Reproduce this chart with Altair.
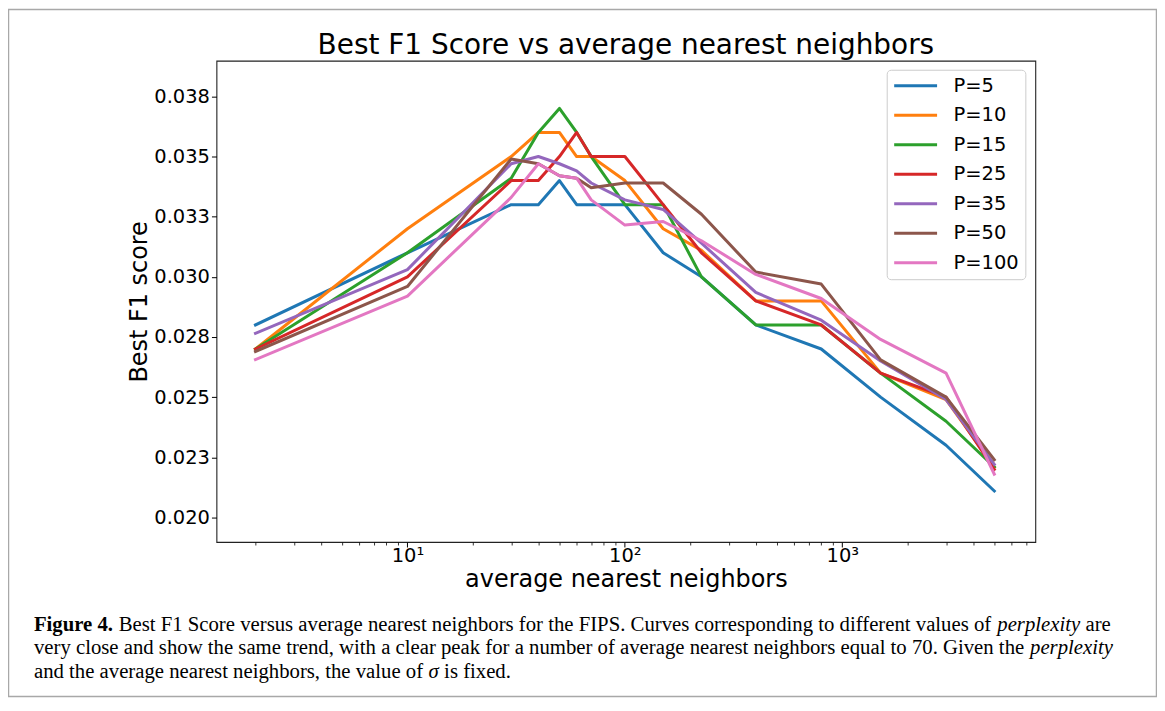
import altair as alt
import pandas as pd

# ---------------- data ----------------
neighbors = [2, 10, 30, 40, 50, 60, 70, 100, 150, 225, 400, 800, 1500, 3000, 5000]

p5 = [0.0280, 0.0310, 0.0330, 0.0330, 0.0340, 0.0330, 0.0330, 0.0330, 0.0310, 0.0300, 0.0280, 0.0270, 0.0250, 0.0230, 0.0211]
p10 = [0.0270, 0.0320, 0.0350, 0.0360, 0.0360, 0.0350, 0.0350, 0.0340, 0.0320, 0.0311, 0.0290, 0.0290, 0.0260, 0.0249, 0.0221]
p15 = [0.0270, 0.0310, 0.0341, 0.0360, 0.0370, 0.0360, 0.0350, 0.0330, 0.0330, 0.0300, 0.0280, 0.0280, 0.0260, 0.0240, 0.0221]
p25 = [0.0270, 0.0300, 0.0340, 0.0340, 0.0350, 0.0360, 0.0350, 0.0350, 0.0330, 0.0310, 0.0290, 0.0280, 0.0260, 0.0250, 0.0220]
p35 = [0.02765, 0.0303, 0.0347, 0.0350, 0.0347, 0.0344, 0.0339, 0.0332, 0.0328, 0.0314, 0.02935, 0.0282, 0.0265, 0.0249, 0.0222]
p50 = [0.0269, 0.0296, 0.0349, 0.0347, 0.0342, 0.0341, 0.0337, 0.0339, 0.0339, 0.0326, 0.0302, 0.0297, 0.02655, 0.0250, 0.0224]
p100 = [0.02656, 0.0292, 0.0333, 0.0347, 0.0342, 0.0341, 0.0332, 0.03215, 0.0323, 0.0315, 0.0301, 0.0291, 0.0274, 0.0260, 0.0218]

series_labels = ["P=5", "P=10", "P=15", "P=25", "P=35", "P=50", "P=100"]
series_values = [p5, p10, p15, p25, p35, p50, p100]
series_colors = ["#1f77b4", "#ff7f0e", "#2ca02c", "#d62728", "#9467bd", "#8c564b", "#e377c2"]

y_ticks = [0.0200, 0.0225, 0.0250, 0.0275, 0.0300, 0.0325, 0.0350, 0.0375]
x_major = [10, 100, 1000]
x_minor = [2, 3, 4, 5, 6, 7, 8, 9, 20, 30, 40, 50, 60, 70, 80, 90,
           200, 300, 400, 500, 600, 700, 800, 900, 2000, 3000, 4000, 5000, 6000, 7000]

title_text = "Best F1 Score vs average nearest neighbors"
x_title = "average nearest neighbors"
y_title = "Best F1 score"

# caption: lines of (text, style) segments
caption_lines = [
    [("Figure 4.", "bold"),
     ("Best F1 Score versus average nearest neighbors for the FIPS. Curves corresponding to different values of", "normal"),
     ("perplexity", "italic"),
     ("are", "normal")],
    [("very close and show the same trend, with a clear peak for a number of average nearest neighbors equal to 70. Given the", "normal"),
     ("perplexity", "italic")],
    [("and the average nearest neighbors, the value of", "normal"),
     ("σ", "italic"),
     ("is fixed.", "normal")],
]

rows = []
for lab, vals in zip(series_labels, series_values):
    for x, y in zip(neighbors, vals):
        rows.append({"nn": x, "f1": y, "P": lab})
df = pd.DataFrame(rows)

FONT = "DejaVu Sans"
SERIF = "Liberation Serif"
CAP_SIZE = 20.8

# Times-compatible advance widths (Liberation Serif is metric compatible), per 1000 em
ROMAN = {" ": 250, ",": 250, ".": 250, "B": 667, "C": 667, "F": 556, "G": 722, "I": 333, "P": 556, "S": 556,
         "a": 444, "b": 500, "c": 444, "d": 500, "e": 444, "f": 333, "g": 500, "h": 500, "i": 278, "k": 500,
         "l": 278, "m": 778, "n": 500, "o": 500, "p": 500, "q": 500, "r": 333, "s": 389, "t": 278, "u": 500,
         "v": 500, "w": 722, "x": 500, "y": 500, "z": 444}
BOLD = {" ": 250, ".": 250, "F": 611, "i": 278, "g": 500, "u": 556, "r": 444, "e": 444}
ITALIC = {"p": 500, "e": 444, "r": 389, "l": 278, "x": 444, "i": 278, "t": 278, "y": 444, "σ": 500}
TABLES = {"normal": ROMAN, "bold": BOLD, "italic": ITALIC}


def text_width(s, style):
    table = TABLES[style]
    return sum(table.get(ch, 500) for ch in s) / 1000.0 * CAP_SIZE


x_scale = alt.Scale(type="log", domain=[1.323, 7720], nice=False)
y_scale = alt.Scale(domain=[0.01898, 0.03898], nice=False, zero=False)

lines = alt.Chart(df).mark_line(strokeWidth=3, strokeJoin="round", strokeCap="square").encode(
    x=alt.X("nn:Q", scale=x_scale,
            axis=alt.Axis(values=x_major, orient="bottom", grid=False, domain=False,
                          tickSize=5, tickColor="black", tickWidth=1,
                          labelExpr="datum.value == 10 ? '10¹' : datum.value == 100 ? '10²' : '10³'",
                          labelFont=FONT, labelFontSize=19.5, labelColor="black", labelPadding=0,
                          title=x_title, titleFont=FONT, titleFontSize=24, titleFontWeight="normal",
                          titleColor="black", titleBaseline="alphabetic", titleY=45)),
    y=alt.Y("f1:Q", scale=y_scale,
            axis=alt.Axis(values=y_ticks, grid=False, domain=False,
                          tickSize=5, tickColor="black", tickWidth=1,
                          labelExpr="format(datum.value + 1e-9, '.3f')",
                          labelFont=FONT, labelFontSize=19.5, labelColor="black", labelPadding=2,
                          title=y_title, titleFont=FONT, titleFontSize=24, titleFontWeight="normal",
                          titleColor="black", titleBaseline="alphabetic", titleX=-70)),
    color=alt.Color("P:N", sort=series_labels,
                    scale=alt.Scale(domain=series_labels, range=series_colors),
                    legend=alt.Legend(title=None, orient="none", legendX=672, legendY=9,
                                      symbolType="stroke", symbolStrokeWidth=3, symbolSize=1849,
                                      clipHeight=20, rowPadding=9.6, padding=6,
                                      labelFont=FONT, labelFontSize=19.5, labelColor="black",
                                      labelOffset=15,
                                      strokeColor="#cccccc", fillColor="white", cornerRadius=4)),
)

minor = alt.Chart(pd.DataFrame({"nn": x_minor})).mark_point(opacity=0).encode(
    x=alt.X("nn:Q",
            axis=alt.Axis(values=x_minor, orient="bottom", grid=False, domain=False, labels=False,
                          tickSize=3, tickColor="black", tickWidth=0.8, title=None)),
    y=alt.value(0),
)


def txt(s, x, y, style="normal", weight="normal", font=SERIF, size=CAP_SIZE, align="left"):
    return alt.Chart(alt.Data(values=[{}])).mark_text(
        text=s, align=align, baseline="alphabetic", font=font, fontSize=size,
        fontStyle=style, fontWeight=weight, color="black"
    ).encode(x=alt.value(x), y=alt.value(y))


# caption text laid out segment by segment
caption = []
line_y = [571.5, 595, 618.5]
space = ROMAN[" "] / 1000.0 * CAP_SIZE
for segs, yy in zip(caption_lines, line_y):
    xx = -183.0
    for s, style in segs:
        caption.append(txt(s, xx, yy,
                           style="italic" if style == "italic" else "normal",
                           weight="bold" if style == "bold" else "normal"))
        xx += text_width(s, style) + space

title = txt(title_text, 410.5, -7, font=FONT, size=28, align="center")

frame = alt.Chart(alt.Data(values=[{}])).mark_rect(fill=None, stroke="#a8a8a8", strokeWidth=1.5).encode(
    x=alt.value(-208.5), x2=alt.value(942.5), y=alt.value(-51.5), y2=alt.value(637.5)
)

chart = alt.layer(frame, lines, minor, title, *caption).resolve_axis(x="independent").properties(
    width=821, height=482.5,
    autosize=alt.AutoSizeParams(type="none"),
    padding={"left": 209, "top": 52, "right": 122, "bottom": 155},
).configure_view(stroke="#222222", strokeWidth=1.1)

chart.save("out.html", embed_options={"renderer": "svg", "actions": False})
